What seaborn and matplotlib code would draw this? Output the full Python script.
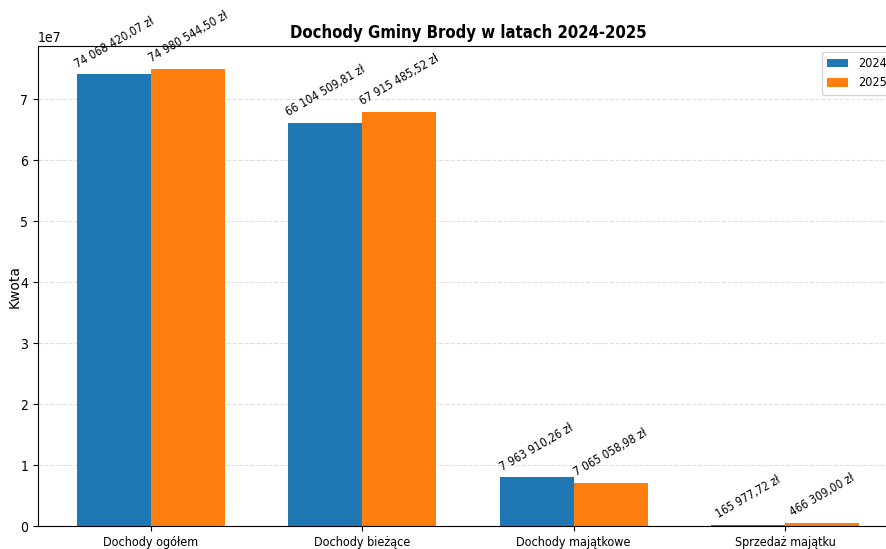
import numpy as np
import pandas as pd
import matplotlib
matplotlib.use("Agg")
import matplotlib.pyplot as plt
import seaborn as sns

categories = ["Dochody ogółem", "Dochody bieżące", "Dochody majątkowe", "Sprzedaż majątku"]
years = ["2024", "2025"]
values_2024 = [74068420.07, 66104509.81, 7963910.26, 165977.72]
values_2025 = [74980544.50, 67915485.52, 7065058.98, 466309.00]


def fmt_pln(v):
    s = f"{v:,.2f}"
    return s.replace(",", " ").replace(".", ",") + " zł"


def main():
    df = pd.DataFrame({
        "Kategoria": categories * 2,
        "Rok": [years[0]] * len(categories) + [years[1]] * len(categories),
        "Kwota": values_2024 + values_2025,
    })

    plt.rcParams["font.family"] = ["DejaVu Sans"]
    plt.rcParams["font.stretch"] = "condensed"

    fig = plt.figure(figsize=(8.87, 5.49), dpi=100)
    ax = fig.add_axes([38 / 887, 23 / 549, 860 / 887, 480 / 549])

    width = 0.7
    sns.barplot(data=df, x="Kategoria", y="Kwota", hue="Rok", hue_order=years,
                order=categories, palette=["#1f77b4", "#ff7f0e"], saturation=1,
                width=width, errorbar=None, ax=ax)

    for cont, vals in zip(ax.containers, [values_2024, values_2025]):
        ax.bar_label(cont, labels=[fmt_pln(v) for v in vals], padding=3,
                     rotation=30, fontsize=8.5)

    # same margins as plain matplotlib bars
    lo, hi = -width / 2, len(categories) - 1 + width / 2
    pad = 0.05 * (hi - lo)
    ax.set_xlim(lo - pad, hi + pad)
    ax.set_ylim(0, max(values_2025 + values_2024) * 1.05)

    ax.set_xlabel("")
    ax.set_ylabel("Kwota", fontsize=10, fontstretch="normal", labelpad=-1)
    ax.tick_params(axis="x", labelsize=9)
    ax.tick_params(axis="y", labelsize=10)
    ax.set_title("Dochody Gminy Brody w latach 2024-2025", fontsize=12, fontweight="bold")
    ax.grid(True, axis="y", linestyle="--", alpha=0.4)
    ax.set_axisbelow(True)
    for s in ax.spines.values():
        s.set_visible(True)
        s.set_color("black")
    sns.move_legend(ax, "upper right", title=None, fontsize=9, handlelength=1.7)

    fig.savefig("out.png", dpi=100)


if __name__ == "__main__": main()
